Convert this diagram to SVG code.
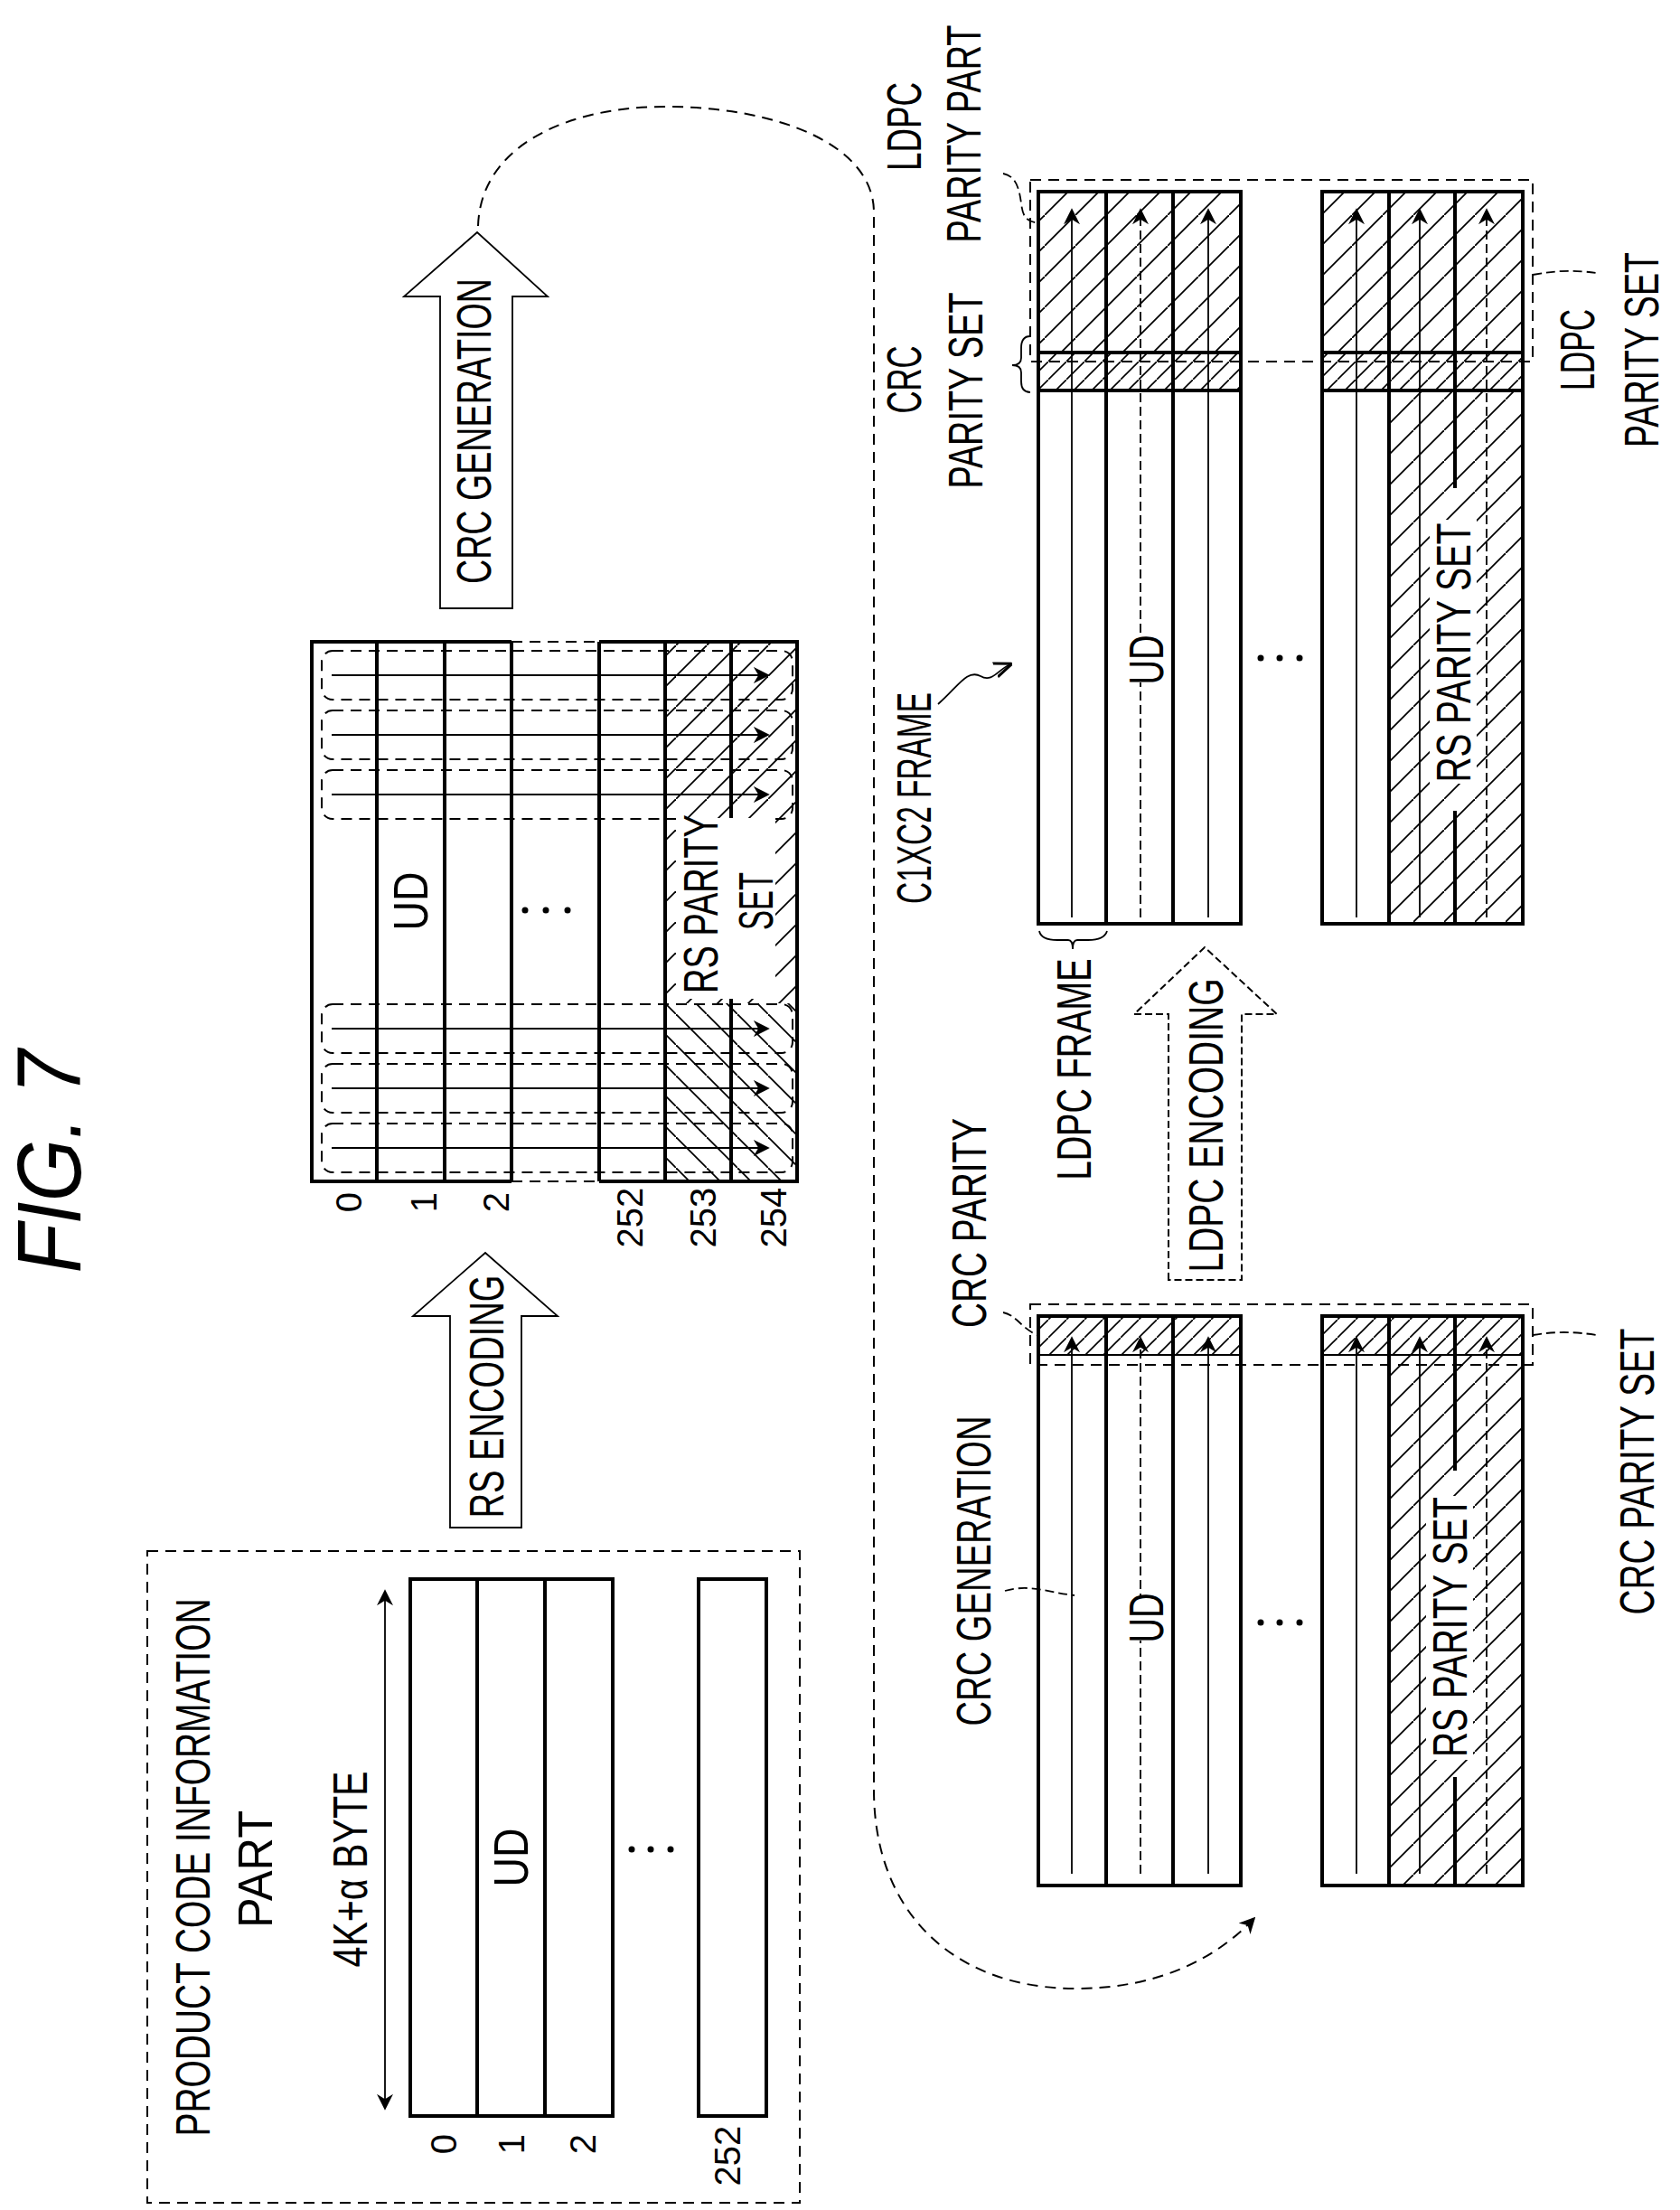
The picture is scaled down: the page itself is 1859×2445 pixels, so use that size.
<svg xmlns="http://www.w3.org/2000/svg" width="1859" height="2445" viewBox="0 0 1859 2445">
<style>
.t{font-family:"Liberation Sans","DejaVu Sans",sans-serif;font-size:54px;fill:#000;text-anchor:middle;dominant-baseline:central}
.d{font-size:40px}
.box{fill:none;stroke:#000;stroke-width:4}
.thin{fill:none;stroke:#000;stroke-width:1.8}
.dash{fill:none;stroke:#000;stroke-width:2;stroke-dasharray:12 8}
.ln{stroke:#000;stroke-width:1.8;fill:none}
.lnd{stroke:#000;stroke-width:1.8;fill:none;stroke-dasharray:10 5}
.bg{fill:#fff}
</style>
<defs>
<pattern id="hf" patternUnits="userSpaceOnUse" width="34" height="34"><path d="M0,34 L34,0" stroke="#000" stroke-width="1.8"/></pattern>
<pattern id="hb" patternUnits="userSpaceOnUse" width="34" height="34"><path d="M0,0 L34,34" stroke="#000" stroke-width="1.8"/></pattern>
<pattern id="hd" patternUnits="userSpaceOnUse" width="20" height="20"><path d="M0,20 L20,0" stroke="#000" stroke-width="1.6"/></pattern>
<marker id="ah" viewBox="0 0 10 10" refX="9" refY="5" markerWidth="18" markerHeight="18" markerUnits="userSpaceOnUse" orient="auto-start-reverse"><path d="M0,0 L10,5 L0,10 L3,5 Z" fill="#000"/></marker>
<marker id="ao" viewBox="0 0 10 10" refX="9" refY="5" markerWidth="20" markerHeight="20" markerUnits="userSpaceOnUse" orient="auto"><path d="M0,1 L10,5 L0,9" fill="none" stroke="#000" stroke-width="1.5"/></marker>
</defs>

<g id="title"><text class="t" transform="translate(54,1285) rotate(-90)" style="font-size:100px;font-style:italic" textLength="247" lengthAdjust="spacingAndGlyphs">FIG. 7</text></g>

<g id="info-part">
<rect class="dash" x="163" y="1716" width="722" height="721"/>
<text class="t" transform="translate(213,2066) rotate(-90)" textLength="595" lengthAdjust="spacingAndGlyphs">PRODUCT CODE INFORMATION</text>
<text class="t" transform="translate(282,2068) rotate(-90)" textLength="130" lengthAdjust="spacingAndGlyphs">PART</text>
<text class="t" transform="translate(387,2068) rotate(-90)" textLength="217" lengthAdjust="spacingAndGlyphs">4K+α BYTE</text>
<line class="ln" x1="426" y1="1760" x2="426" y2="2333" marker-start="url(#ah)" marker-end="url(#ah)"/>
<rect class="box" x="454" y="1747" width="224" height="594"/>
<line class="box" x1="528" y1="1747" x2="528" y2="2341"/>
<line class="box" x1="603" y1="1747" x2="603" y2="2341"/>
<rect class="box" x="773" y="1747" width="75" height="594"/>
<text class="t" transform="translate(565,2055) rotate(-90)" textLength="65" lengthAdjust="spacingAndGlyphs">UD</text>
<circle cx="699" cy="2046" r="3.5"/><circle cx="720" cy="2046" r="3.5"/><circle cx="742" cy="2046" r="3.5"/>
<text class="t d" transform="translate(491,2372) rotate(-90)">0</text>
<text class="t d" transform="translate(566,2372) rotate(-90)">1</text>
<text class="t d" transform="translate(645,2372) rotate(-90)">2</text>
<text class="t d" transform="translate(805,2385) rotate(-90)">252</text>
</g>

<g id="rs-encoding-arrow">
<path class="thin" d="M498,1690 L498,1456 L457,1456 L537,1386 L617,1456 L577,1456 L577,1690 Z"/>
<text class="t" transform="translate(538,1545) rotate(-90)" textLength="269" lengthAdjust="spacingAndGlyphs">RS ENCODING</text>
</g>

<g id="rs-block">
<rect x="736" y="710" width="146" height="597" fill="url(#hf)"/>
<rect x="736" y="1110" width="146" height="197" fill="#fff"/>
<rect x="736" y="1110" width="146" height="197" fill="url(#hb)"/>
<path class="box" d="M566,710 L345,710 L345,1307 L566,1307 M663,710 L882,710 L882,1307 L663,1307"/>
<path class="dash" d="M566,710 L663,710 M566,1307 L663,1307"/>
<line class="box" x1="417" y1="710" x2="417" y2="1307"/>
<line class="box" x1="492" y1="710" x2="492" y2="1307"/>
<line class="box" x1="566" y1="710" x2="566" y2="1307"/>
<line class="box" x1="663" y1="710" x2="663" y2="1307"/>
<line class="box" x1="736" y1="710" x2="736" y2="1307"/>
<line class="box" x1="809" y1="710" x2="809" y2="1307"/>
<rect class="dash" x="356" y="720" width="521" height="54" rx="12"/>
<rect class="dash" x="356" y="786" width="521" height="54" rx="12"/>
<rect class="dash" x="356" y="852" width="521" height="54" rx="12"/>
<rect class="dash" x="356" y="1111" width="521" height="54" rx="12"/>
<rect class="dash" x="356" y="1177" width="521" height="54" rx="12"/>
<rect class="dash" x="356" y="1243" width="521" height="54" rx="12"/>
<line class="ln" x1="367" y1="747" x2="850" y2="747" marker-end="url(#ah)"/>
<line class="ln" x1="367" y1="813" x2="850" y2="813" marker-end="url(#ah)"/>
<line class="ln" x1="367" y1="879" x2="850" y2="879" marker-end="url(#ah)"/>
<line class="ln" x1="367" y1="1138" x2="850" y2="1138" marker-end="url(#ah)"/>
<line class="ln" x1="367" y1="1204" x2="850" y2="1204" marker-end="url(#ah)"/>
<line class="ln" x1="367" y1="1270" x2="850" y2="1270" marker-end="url(#ah)"/>
<rect class="bg" x="748" y="905" width="110" height="200"/>
<text class="t" transform="translate(775,1000) rotate(-90)" textLength="198" lengthAdjust="spacingAndGlyphs">RS PARITY</text>
<text class="t" transform="translate(836,997) rotate(-90)" textLength="64" lengthAdjust="spacingAndGlyphs">SET</text>
<text class="t" transform="translate(454,997) rotate(-90)" textLength="65" lengthAdjust="spacingAndGlyphs">UD</text>
<circle cx="581" cy="1007" r="3.5"/><circle cx="604" cy="1007" r="3.5"/><circle cx="628" cy="1007" r="3.5"/>
<text class="t d" transform="translate(386,1330) rotate(-90)">0</text>
<text class="t d" transform="translate(469,1330) rotate(-90)">1</text>
<text class="t d" transform="translate(549,1330) rotate(-90)">2</text>
<text class="t d" transform="translate(697,1347) rotate(-90)">252</text>
<text class="t d" transform="translate(778,1347) rotate(-90)">253</text>
<text class="t d" transform="translate(856,1347) rotate(-90)">254</text>
</g>

<g id="crc-generation-arrow">
<path class="thin" d="M487,673 L487,328 L447,328 L528,257 L606,328 L567,328 L567,673 Z"/>
<text class="t" transform="translate(524,477) rotate(-90)" textLength="338" lengthAdjust="spacingAndGlyphs">CRC GENERATION</text>
</g>

<g id="c1xc2-frame">
<rect x="1149" y="212" width="224" height="178" fill="url(#hf)"/>
<rect x="1463" y="212" width="222" height="178" fill="url(#hf)"/>
<rect x="1149" y="390" width="224" height="42" fill="url(#hd)"/>
<rect x="1463" y="390" width="222" height="42" fill="url(#hd)"/>
<rect x="1537" y="432" width="148" height="590" fill="url(#hf)"/>
<rect class="box" x="1149" y="212" width="224" height="810"/>
<line class="box" x1="1224" y1="212" x2="1224" y2="1022"/>
<line class="box" x1="1298" y1="212" x2="1298" y2="1022"/>
<rect class="box" x="1463" y="212" width="222" height="810"/>
<line class="box" x1="1537" y1="212" x2="1537" y2="1022"/>
<line class="box" x1="1610" y1="212" x2="1610" y2="540"/>
<line class="box" x1="1610" y1="897" x2="1610" y2="1022"/>
<line class="box" x1="1149" y1="390" x2="1373" y2="390"/>
<line class="box" x1="1149" y1="432" x2="1373" y2="432"/>
<line class="box" x1="1463" y1="390" x2="1685" y2="390"/>
<line class="box" x1="1463" y1="432" x2="1685" y2="432"/>
<rect class="dash" x="1140" y="199" width="556" height="201"/>
<line class="ln" x1="1186" y1="1015" x2="1186" y2="232" marker-end="url(#ah)"/>
<line class="lnd" x1="1262" y1="1015" x2="1262" y2="232" marker-end="url(#ah)"/>
<line class="ln" x1="1337" y1="1015" x2="1337" y2="232" marker-end="url(#ah)"/>
<line class="ln" x1="1501" y1="1015" x2="1501" y2="232" marker-end="url(#ah)"/>
<line class="ln" x1="1571" y1="1015" x2="1571" y2="232" marker-end="url(#ah)"/>
<line class="lnd" x1="1645" y1="1015" x2="1645" y2="232" marker-end="url(#ah)"/>
<rect class="bg" x="1582" y="575" width="52" height="292"/>
<text class="t" transform="translate(1608,722) rotate(-90)" textLength="287" lengthAdjust="spacingAndGlyphs">RS PARITY SET</text>
<rect class="bg" x="1244" y="705" width="48" height="50"/>
<text class="t" transform="translate(1268,730) rotate(-90)" textLength="55" lengthAdjust="spacingAndGlyphs">UD</text>
<circle cx="1395" cy="728" r="3.5"/><circle cx="1416" cy="728" r="3.5"/><circle cx="1438" cy="728" r="3.5"/>
<path class="thin" d="M1150,1030 Q1152,1040 1170,1040 L1182,1040 Q1187,1040 1187,1050 Q1187,1040 1192,1040 L1204,1040 Q1222,1040 1225,1030"/>
</g>

<g id="crc-frame">
<rect x="1149" y="1456" width="224" height="43" fill="url(#hd)"/>
<rect x="1463" y="1456" width="222" height="43" fill="url(#hd)"/>
<rect x="1537" y="1499" width="148" height="587" fill="url(#hf)"/>
<rect class="box" x="1149" y="1456" width="224" height="630"/>
<line class="box" x1="1224" y1="1456" x2="1224" y2="2086"/>
<line class="box" x1="1298" y1="1456" x2="1298" y2="2086"/>
<rect class="box" x="1463" y="1456" width="222" height="630"/>
<line class="box" x1="1537" y1="1456" x2="1537" y2="2086"/>
<line class="box" x1="1610" y1="1456" x2="1610" y2="1627"/>
<line class="box" x1="1610" y1="1966" x2="1610" y2="2086"/>
<line class="thin" x1="1149" y1="1499" x2="1373" y2="1499"/>
<line class="thin" x1="1463" y1="1499" x2="1685" y2="1499"/>
<rect class="dash" x="1140" y="1443" width="556" height="67"/>
<line class="ln" x1="1186" y1="2073" x2="1186" y2="1480" marker-end="url(#ah)"/>
<line class="lnd" x1="1262" y1="2073" x2="1262" y2="1480" marker-end="url(#ah)"/>
<line class="ln" x1="1337" y1="2073" x2="1337" y2="1480" marker-end="url(#ah)"/>
<line class="ln" x1="1501" y1="2073" x2="1501" y2="1480" marker-end="url(#ah)"/>
<line class="ln" x1="1571" y1="2073" x2="1571" y2="1480" marker-end="url(#ah)"/>
<line class="lnd" x1="1645" y1="2073" x2="1645" y2="1480" marker-end="url(#ah)"/>
<rect class="bg" x="1578" y="1655" width="52" height="292"/>
<text class="t" transform="translate(1604,1800) rotate(-90)" textLength="288" lengthAdjust="spacingAndGlyphs">RS PARITY SET</text>
<rect class="bg" x="1244" y="1765" width="48" height="50"/>
<text class="t" transform="translate(1268,1790) rotate(-90)" textLength="55" lengthAdjust="spacingAndGlyphs">UD</text>
<circle cx="1395" cy="1795" r="3.5"/><circle cx="1416" cy="1795" r="3.5"/><circle cx="1438" cy="1795" r="3.5"/>
</g>

<g id="ldpc-encoding-arrow">
<path class="dash" style="stroke-dasharray:8 4" d="M1293,1416 L1293,1122 L1255,1122 L1333,1048 L1413,1122 L1374,1122 L1374,1416 Z"/>
<text class="t" transform="translate(1334,1245) rotate(-90)" textLength="325" lengthAdjust="spacingAndGlyphs">LDPC ENCODING</text>
</g>

<g id="labels">
<text class="t" transform="translate(1000,140) rotate(-90)" textLength="98" lengthAdjust="spacingAndGlyphs">LDPC</text>
<text class="t" transform="translate(1066,148) rotate(-90) scale(0.7,1)">PARITY PART</text>
<text class="t" transform="translate(1000,420) rotate(-90)" textLength="75" lengthAdjust="spacingAndGlyphs">CRC</text>
<text class="t" transform="translate(1068,432) rotate(-90)" textLength="217" lengthAdjust="spacingAndGlyphs">PARITY SET</text>
<text class="t" transform="translate(1011,883) rotate(-90)" textLength="234" lengthAdjust="spacingAndGlyphs">C1XC2 FRAME</text>
<text class="t" transform="translate(1745,387) rotate(-90)" textLength="90" lengthAdjust="spacingAndGlyphs">LDPC</text>
<text class="t" transform="translate(1816,387) rotate(-90)" textLength="216" lengthAdjust="spacingAndGlyphs">PARITY SET</text>
<text class="t" transform="translate(1188,1183) rotate(-90)" textLength="245" lengthAdjust="spacingAndGlyphs">LDPC FRAME</text>
<text class="t" transform="translate(1072,1353) rotate(-90)" textLength="232" lengthAdjust="spacingAndGlyphs">CRC PARITY</text>
<text class="t" transform="translate(1077,1738) rotate(-90)" textLength="343" lengthAdjust="spacingAndGlyphs">CRC GENERATION</text>
<text class="t" transform="translate(1811,1628) rotate(-90)" textLength="317" lengthAdjust="spacingAndGlyphs">CRC PARITY SET</text>
</g>

<g id="connectors">
<path class="dash" d="M529,250 C532,160 630,118 736,118 C860,118 967,160 967,235 L967,1980 C967,2120 1060,2200 1190,2200 C1280,2200 1345,2168 1388,2122" marker-end="url(#ah)"/>
<path class="thin" d="M1038,779 C1060,760 1070,740 1085,748 C1098,756 1105,740 1118,735" marker-end="url(#ao)"/>
<path class="lnd" d="M1110,192 C1125,195 1128,210 1130,225 C1132,240 1135,245 1150,247"/>
<path class="thin" d="M1140,372 Q1130,372 1130,385 L1130,396 Q1130,404 1120,404 Q1130,404 1130,412 L1130,422 Q1130,434 1140,434"/>
<path class="lnd" d="M1696,304 C1720,300 1735,298 1767,302"/>
<path class="lnd" d="M1110,1452 C1125,1455 1130,1470 1150,1478"/>
<path class="lnd" d="M1112,1760 C1140,1752 1160,1762 1189,1765"/>
<path class="lnd" d="M1696,1477 C1720,1473 1740,1473 1767,1477"/>
</g>
</svg>
